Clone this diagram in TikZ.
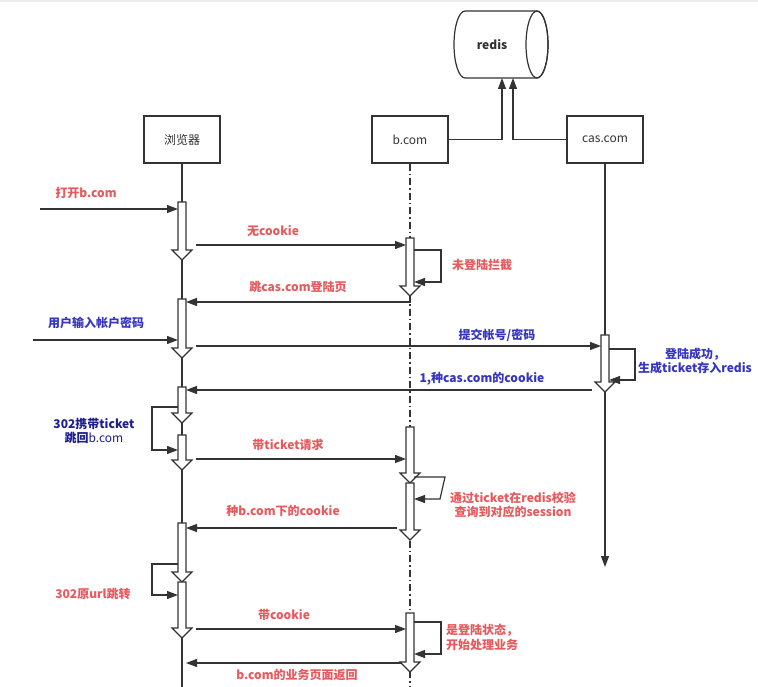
\documentclass[tikz,border=0pt]{standalone}
\usepackage{fontspec}
\setmainfont{Noto Sans CJK SC}
\usetikzlibrary{arrows.meta}
\definecolor{lc}{HTML}{333333}
\definecolor{rd}{HTML}{E65A5E}
\definecolor{bl}{HTML}{3535C0}
\definecolor{dbl}{HTML}{1E1E90}
\newcommand\actbar[3]{\draw[ln, fill=white] (#1-4,#2) -- (#1+4,#2) -- (#1+4,#3-10) -- (#1+10,#3-10) -- (#1,#3) -- (#1-10,#3-10) -- (#1-4,#3-10) -- cycle;}
\begin{document}
\begin{tikzpicture}[x=1pt,y=-1pt,
 ln/.style={draw=lc, line width=1.2pt},
 msg/.style={ln, -{Triangle[length=11pt,width=8pt]}},
 hdr/.style={draw=lc, line width=1.2pt, minimum width=76pt, minimum height=47pt, inner sep=0pt, font=\fontsize{12}{14}\selectfont, text=lc},
 lbl/.style={font=\fontsize{12}{14.5}\selectfont\bfseries, inner sep=0pt, align=center},
 ]
\useasboundingbox (0,0) rectangle (758,687);
\fill[white] (0,0) rectangle (758,687);
\fill[gray!15] (0,0) rectangle (758,2);

% headers
\node[hdr] (brw) at (182,139.5) {浏览器};
\node[hdr] (bcm) at (410,139.5) {b.com};
\node[hdr] (cas) at (605,139.5) {cas.com};

% redis cylinder
\draw[ln, fill=white] (465,11) -- (537,11) arc[start angle=-90, end angle=90, x radius=11, y radius=33.5] -- (465,78) arc[start angle=90, end angle=270, x radius=11, y radius=33.5] -- cycle;
\draw[ln] (537,44.5) ellipse [x radius=11, y radius=33.5];
\node[lbl, text=lc] (redis) at (492,44.5) {redis};
\coordinate (rdA) at (502,78);
\coordinate (rdB) at (513,78);
\draw[msg] (bcm.east) -| (rdA);
\draw[msg] (cas.west) -| (rdB);

% helper coordinates (bar edges)
\coordinate (BL) at (178,163);
\coordinate (BR) at (186,163);
\coordinate (BH) at (196,163);
\coordinate (bL) at (406,163);
\coordinate (bR) at (414,163);
\coordinate (bH) at (397,163);
\coordinate (cL) at (601,163);
\coordinate (cR) at (609,163);
\coordinate (cH) at (592,163);
\coordinate (in1) at (40,209);
\coordinate (in2) at (33,340);

% lifelines
\draw[ln] (brw.south) -- (brw.south |- 0,687);
\draw[ln, dash pattern=on 7pt off 3pt on 1.5pt off 3pt] (bcm.south) -- (bcm.south |- 0,687);
\draw[msg] (cas.south) -- (cas.south |- 0,567);

% messages
\draw[msg] (in1) -- (BL |- in1);
\draw[msg] (BH |- 0,245) -- (bL |- 0,245);
\draw[msg] (bcm.south |- 0,296) -- (bcm.south |- 0,302) -- (BR |- 0,302);
\draw[msg] (in2) -- (BL |- in2);
\draw[msg] (BH |- 0,346) -- (cL |- 0,346);
\draw[msg] (cH |- 0,390) -- (BR |- 0,390);
\draw[msg] (BH |- 0,459) -- (bL |- 0,459);
\draw[msg] (bH |- 0,528) -- (BR |- 0,528);
\draw[msg] (BH |- 0,629) -- (bL |- 0,629);
\draw[msg] (bL |- 0,663) -- (BR |- 0,663);

% activation bars
\actbar{182}{202}{260}
\actbar{182}{299}{358}
\actbar{182}{387}{423}
\actbar{182}{435}{470}
\actbar{182}{523}{582}
\actbar{182}{582}{638}
\actbar{410}{238}{296}
\actbar{410}{427}{483}
\actbar{410}{483}{540}
\actbar{410}{613}{672}
\actbar{605}{335}{392}

% self loops
\draw[msg] (bR |- 0,250) -- (441,250) -- (441,282) -- (bR |- 0,282);
\draw[msg] (cR |- 0,349) -- (635,349) -- (635,380) -- (cR |- 0,380);
\draw[msg] (BL |- 0,407) -- (152,407) -- (152,450) -- (BL |- 0,450);
\draw[msg] (bR |- 0,477) -- (445,477) -- (440,499) -- (bR |- 0,499);
\draw[msg] (BL |- 0,564) -- (152,564) -- (152,595) -- (BL |- 0,595);
\draw[msg] (bR |- 0,622) -- (441,622) -- (441,654) -- (bR |- 0,654);

% labels
\node[lbl, text=rd] (t1) at (86,193) {打开b.com};
\node[lbl, text=rd] (t2) at (273,231) {无cookie};
\node[lbl, text=rd] (t3) at (482,265) {未登陆拦截};
\node[lbl, text=rd] (t4) at (298,287) {跳cas.com登陆页};
\node[lbl, text=bl] (t5) at (96,323) {用户输入帐户密码};
\node[lbl, text=bl] (t6) at (497,335) {提交帐号/密码};
\node[lbl, text=bl] (t7) at (695,361) {登陆成功，\\生成ticket存入redis};
\node[lbl, text=bl] (t8) at (482,379) {1,种cas.com的cookie};
\node[lbl, text=dbl] (t9) at (94,431) {302携带ticket\\跳回{\mdseries b.com}};
\node[lbl, text=rd] (t10) at (288,445) {带ticket请求};
\node[lbl, text=rd] (t11) at (513,505) {通过ticket在redis校验\\查询到对应的session};
\node[lbl, text=rd] (t12) at (283,511) {种b.com下的cookie};
\node[lbl, text=rd] (t13) at (93,594) {302原url跳转};
\node[lbl, text=rd] (t14) at (284,615) {带cookie};
\node[lbl, text=rd, align=left, anchor=west] (t15) at (446,637.5) {是登陆状态，\\开始处理业务};
\node[lbl, text=rd] (t16) at (297,675) {b.com的业务页面返回};
\end{tikzpicture}
\end{document}
